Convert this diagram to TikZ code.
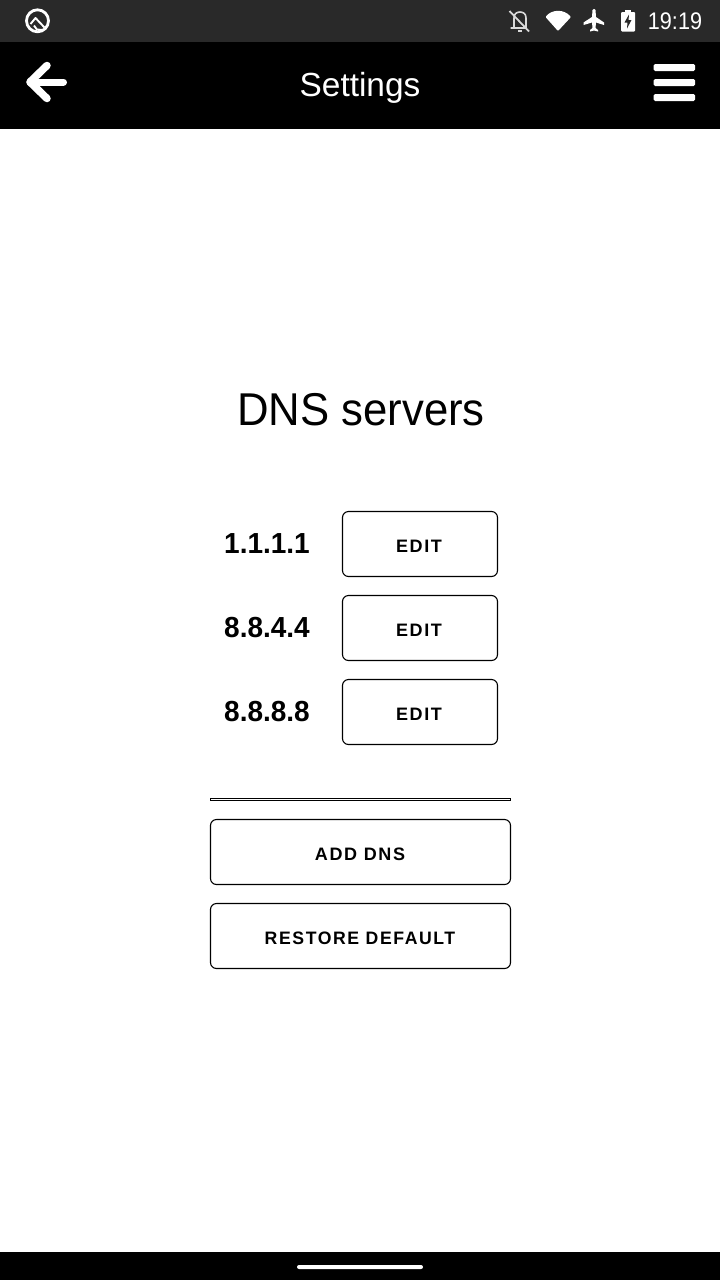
\documentclass[tikz,border=0pt]{standalone}
\usepackage{fontspec}
\setmainfont{Liberation Sans}
\definecolor{statusbar}{HTML}{292929}
\begin{document}
\begin{tikzpicture}[x=1pt,y=-1pt,
  btn/.style={draw=black,line width=1.1pt,rounded corners=6pt,fill=white},
  lbl/.style={inner sep=0pt,anchor=center},
  btntext/.style={lbl,font=\fontsize{18}{20}\selectfont\bfseries\addfontfeatures{LetterSpace=9}},
  ip/.style={lbl,font=\fontsize{29}{32}\selectfont\bfseries},
  white line/.style={draw=white,line cap=round,line join=round}]
\useasboundingbox (0,0) rectangle (720,1280);
\fill[white] (0,0) rectangle (720,1280);
\fill[statusbar] (0,0) rectangle (720,42);
\fill[black] (0,42) rectangle (720,129);
\fill[black] (0,1252) rectangle (720,1280);
\fill[white,rounded corners=2pt] (297,1265) rectangle (423,1269);
% status icon left
\draw[white,line width=2.8pt] (37.5,20.8) circle (11);
\draw[white,line width=1.9pt,line join=round] (30.5,24) -- (35.5,18) -- (44.5,27.5);
\draw[white,line width=1.9pt] (34,25.5) -- (37,29.5) -- (43,30);
% back arrow
\draw[white line,line width=7pt] (30,82) -- (63.5,82);
\draw[white line,line width=7.5pt] (47,65.5) -- (30,82) -- (47,98.5);
% menu
\foreach \yy in {67.5,82.5,97.5}{\fill[white,rounded corners=1.5pt] (653.5,\yy-3.5) rectangle (695,\yy+3.5);}
% bell muted
\draw[black!15,line width=1.6pt,line join=round] (514,28) -- (514,18) .. controls (514,14) and (516.5,12) .. (520,12) .. controls (523.5,12) and (526,14) .. (526,18) -- (526,28) -- (510.5,28);
\draw[black!15,line width=1.6pt] (518,31) -- (522,31);
\draw[black!15,line width=1.8pt] (509.5,11) -- (529,31.5);
% wifi
\fill[white,rounded corners=1pt] (545.5,17) .. controls (552,9) and (564,9) .. (571,17) -- (558,31) -- cycle;
% plane
\fill[white] (592.5,10) .. controls (593,8.5) and (595,8.5) .. (595.5,10) -- (596,17) -- (604,22.5) -- (604,25) -- (596,22.5) -- (595.5,28) -- (598,30) -- (598,31.5) -- (594,30.5) -- (590,31.5) -- (590,30) -- (592.5,28) -- (592,22.5) -- (583.5,25) -- (583.5,22.5) -- (592,17) -- cycle;
% battery
\fill[white,rounded corners=1pt] (621,12) rectangle (635,31.5);
\fill[white] (625,9.5) rectangle (631,12);
\fill[statusbar] (629,14.5) -- (624.5,22.5) -- (627.5,22.5) -- (627,28.5) -- (631.5,20) -- (628.5,20) -- cycle;
% texts
\node[lbl,text=white,font=\fontsize{24}{26}\selectfont] (clock) at (675,21) {\scalebox{.9}[1]{19:19}};
\node[lbl,text=white,font=\fontsize{33.4}{36}\selectfont] (title) at (360,88) {Settings};
\node[lbl,font=\fontsize{46}{50}\selectfont] (dns) at (361,410) {\scalebox{.95}[1]{DNS servers}};
\node[ip] (ip1) at (267,544) {\scalebox{.965}[1]{1.1.1.1}};
\node[ip] (ip2) at (267,628) {\scalebox{.965}[1]{8.8.4.4}};
\node[ip] (ip3) at (267,712) {\scalebox{.965}[1]{8.8.8.8}};
\foreach \n/\yy in {1/511.5,2/595.5,3/679.5}{
  \draw[btn] (342.5,\yy) rectangle (497.5,\yy+65);
  \node[btntext] (edit\n) at (419,\yy+35) {EDIT};
}
\draw[black,line width=1.3pt,fill=white] (210.5,798.5) rectangle (510.5,800.5);
\draw[btn] (210.5,819.5) rectangle (510.5,884.5);
\node[btntext] (add) at (360,854.5) {ADD DNS};
\draw[btn] (210.5,903.5) rectangle (510.5,968.5);
\node[btntext] (restore) at (360,938.5) {\scalebox{.98}[1]{RESTORE DEFAULT}};
\end{tikzpicture}
\end{document}
